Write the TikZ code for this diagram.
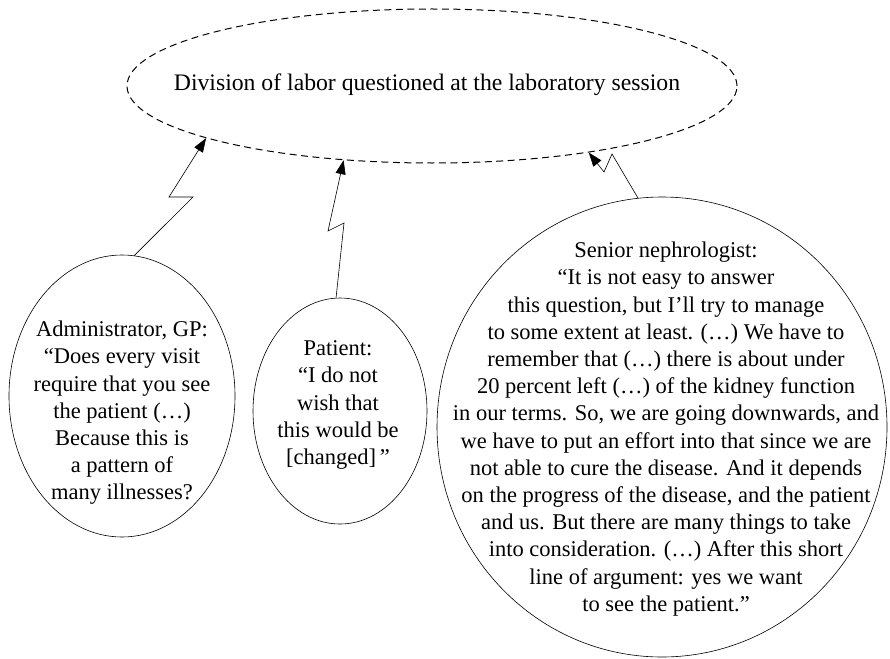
\documentclass[tikz,border=0pt]{standalone}
\usepackage{fontspec}
\setmainfont{Liberation Serif}
\usetikzlibrary{shapes.geometric,arrows.meta}
\begin{document}
\begin{tikzpicture}[x=1pt,y=-1pt,
  bubble/.style={draw,ellipse,line width=0.6pt,inner sep=0pt},
  titlebubble/.style={bubble,line width=1pt,dash pattern=on 7pt off 4.5pt},
  quote/.style={align=center,font=\fontsize{22.5}{27.2}\selectfont,inner sep=0pt},
  bolt/.style={line width=0.6pt,-{Triangle[length=14pt,width=10pt]}}
]
\useasboundingbox (0,0) rectangle (890,658);
% top dashed ellipse
\node[titlebubble,minimum width=610pt,minimum height=154pt] (title) at (432,86) {};
\node[quote,font=\fontsize{23.7}{28}\selectfont] (titletext) at (427,85) {Division of labor questioned at the laboratory session};
% bubbles
\node[bubble,minimum width=226pt,minimum height=282pt] (admin) at (122,396) {};
\node[quote] (admintext) at (122,413) {Administrator, GP:\\``Does every visit\\require that you see\\the patient (\dots)\\Because this is\\a pattern of\\many illnesses?};
\node[bubble,minimum width=174pt,minimum height=226pt] (patient) at (340,411) {};
\node[quote] (patienttext) at (338,405) {Patient:\\``I do not\\wish that\\this would be\\{[}changed{]}\,''};
\node[bubble,minimum width=450pt,minimum height=460pt] (senior) at (662,427) {};
\node[quote] (seniortext) at (666,429) {Senior nephrologist:\\``It is not easy to answer\\this question, but I'll try to manage\\to some extent at least. (\dots) We have to\\remember that (\dots) there is about under\\20 percent left (\dots) of the kidney function\\in our terms. So, we are going downwards, and\\we have to put an effort into that since we are\\not able to cure the disease. And it depends\\on the progress of the disease, and the patient\\and us. But there are many things to take\\into consideration. (\dots) After this short\\line of argument: yes we want\\to see the patient.''};
% bolt bends
\coordinate (a1) at (193,197);
\coordinate (a2) at (169,197);
\coordinate (p1) at (344,223);
\coordinate (p2) at (328,231);
\coordinate (s1) at (612,154);
\coordinate (s2) at (604,172);
% connectors
\draw[bolt] (admin.85) -- (a1) -- (a2) -- (title.193.6);
\draw[bolt] (patient.92) -- (p1) -- (p2) -- (title.220.3);
\draw[bolt] (senior.96) -- (s1) -- (s2) -- (title.337.1);
\end{tikzpicture}
\end{document}
